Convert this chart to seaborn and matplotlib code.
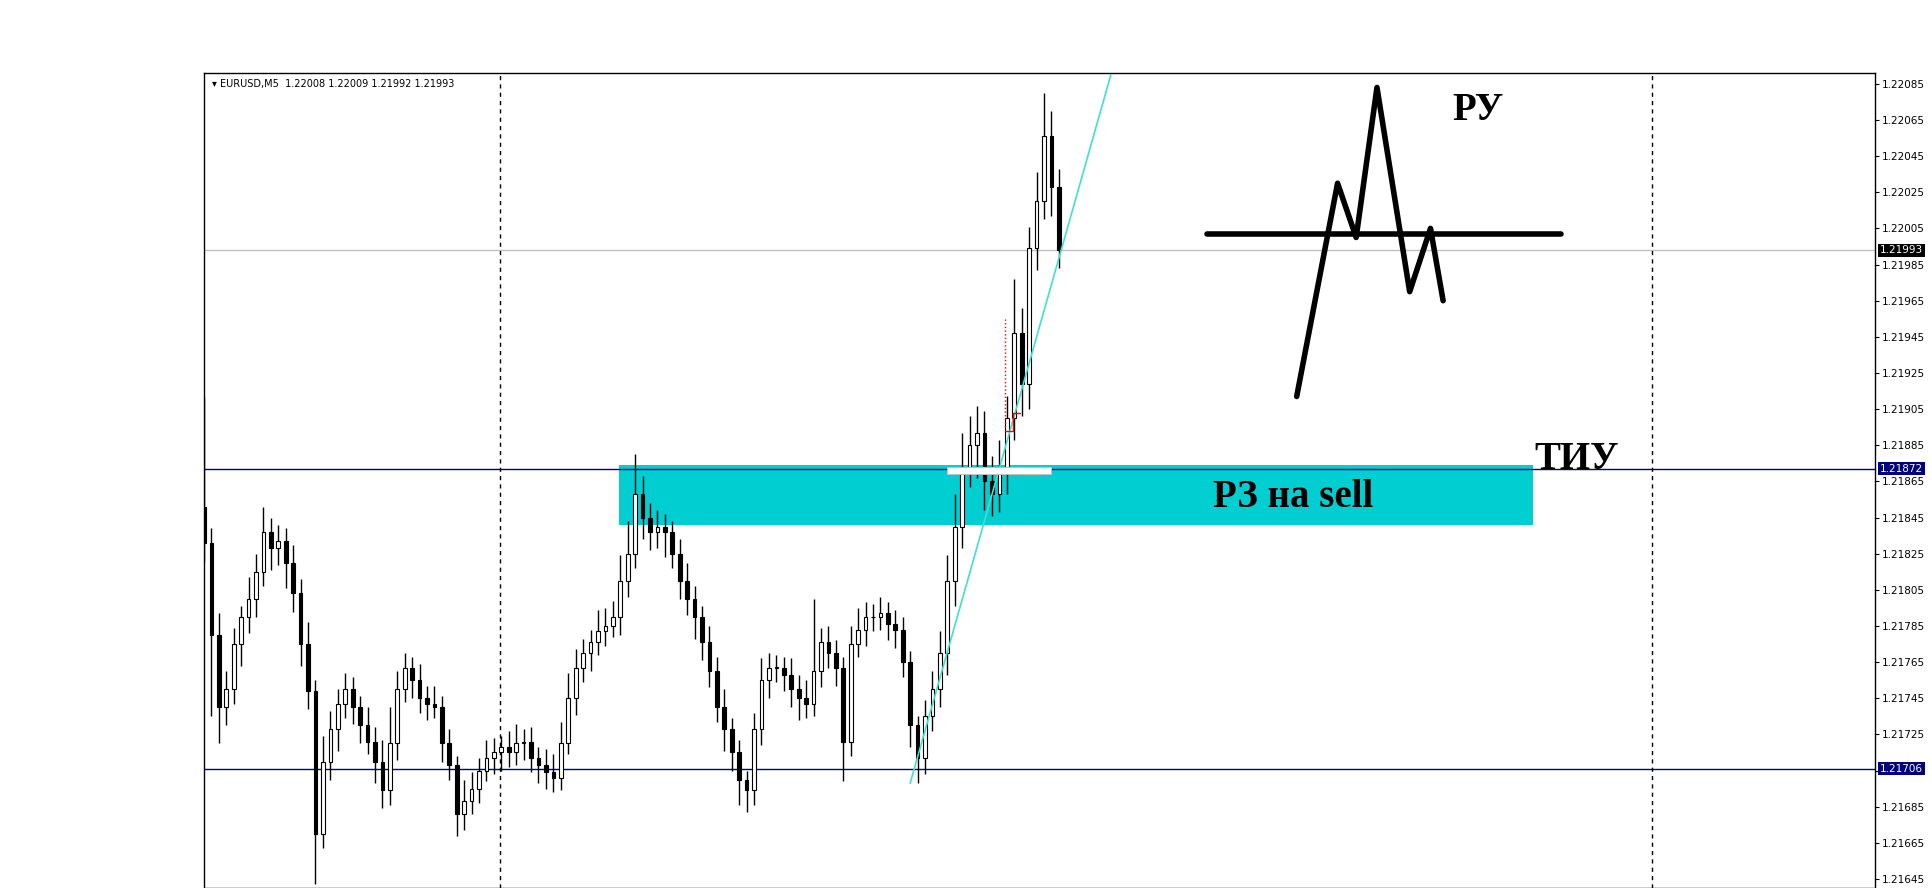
import numpy as np
import pandas as pd
import matplotlib
matplotlib.use("Agg")
import matplotlib.pyplot as plt
import seaborn as sns

# closes in 1e-5 above 1.21600, one per 5-minute bar
closes = [231, 180, 140, 150, 175, 190, 200, 215, 237, 228, 232, 220, 203, 175,
          149, 70, 110, 128, 142, 150, 140, 130, 121, 110, 94, 120, 150, 162,
          155, 145, 142, 140, 120, 108, 81, 88, 95, 105, 112, 115, 118, 115,
          120, 121, 112, 108, 104, 101, 120, 145, 162, 170, 176, 182, 185, 190,
          210, 225, 258, 245, 237, 240, 237, 225, 210, 200, 190, 176, 160, 140,
          128, 115, 100, 94, 128, 155, 162, 162, 158, 150, 145, 142, 160, 176,
          170, 162, 121, 175, 183, 190, 190, 192, 186, 183, 165, 130, 112, 135,
          150, 170, 210, 240, 272, 285, 292, 265, 258, 272, 300, 347, 319, 394,
          420, 456, 428, 393]
hi_ext = [60, 8, 12, 10, 9, 6, 12, 10, 14, 8, 9, 7, 10, 8, 12, 6, 14, 10, 8, 9,
          7, 6, 10, 8, 12, 20, 10, 8, 6, 9, 7, 10, 6, 8, 5, 12, 9, 7, 10, 8, 6,
          9, 11, 7, 8, 6, 9, 10, 12, 14, 10, 8, 7, 12, 10, 9, 14, 18, 22, 10, 8,
          9, 7, 6, 8, 10, 7, 6, 9, 8, 10, 6, 7, 5, 9, 12, 8, 7, 6, 9, 8, 10, 40,
          8, 9, 7, 6, 10, 12, 8, 7, 9, 6, 8, 7, 6, 5, 9, 10, 12, 14, 18, 20, 16,
          15, 12, 14, 16, 12, 30, 14, 12, 16, 24, 14, 10]
lo_ext = [10, 45, 20, 10, 8, 12, 9, 10, 8, 12, 9, 14, 10, 12, 10, 28, 8, 10, 12,
          8, 9, 10, 7, 12, 10, 8, 9, 7, 10, 8, 9, 6, 10, 8, 12, 9, 7, 8, 6, 9,
          10, 8, 7, 9, 8, 10, 9, 8, 7, 6, 9, 8, 10, 7, 8, 6, 10, 9, 8, 12, 10,
          9, 14, 8, 10, 9, 12, 10, 9, 8, 12, 10, 14, 12, 8, 9, 10, 8, 9, 10, 12,
          8, 7, 9, 8, 10, 22, 8, 7, 9, 8, 7, 9, 10, 8, 12, 14, 9, 8, 10, 12,
          14, 12, 10, 18, 16, 12, 10, 14, 12, 18, 14, 12, 10, 16, 10]

base = 1.216
price_ticks = [1.21645, 1.21665, 1.21685, 1.21705, 1.21725, 1.21745, 1.21765,
               1.21785, 1.21805, 1.21825, 1.21845, 1.21865, 1.21885, 1.21905,
               1.21925, 1.21945, 1.21965, 1.21985, 1.22005, 1.22025, 1.22045,
               1.22065, 1.22085]
level_hi = 1.21872
level_lo = 1.21706
last_price = 1.21993
zone = (55.8, 178.8, 1.21841, 1.21874)
trend_x = [95, 122]
trend_y = [1.21698, 1.22090]
sketch_x = [147.0, 152.5, 155.0, 157.8, 162.2, 165.0, 166.7]
sketch_y = [1.21912, 1.22030, 1.22000, 1.22083, 1.21970, 1.22005, 1.21965]
sketch_h_x = [135.0, 182.5]
sketch_h_y = [1.22002, 1.22002]

df = pd.DataFrame({"c": np.array(closes) * 1e-5 + base})
df["o"] = df["c"].shift(1).fillna(df["c"].iloc[0] + 0.0002)
df["h"] = df[["o", "c"]].max(axis=1) + np.array(hi_ext) * 1e-5
df["l"] = df[["o", "c"]].min(axis=1) - np.array(lo_ext) * 1e-5
df["i"] = np.arange(len(df))

sns.set_style("white")
plt.rcParams["text.color"] = "black"
plt.rcParams["ytick.color"] = "black"
fig = plt.figure(figsize=(19.32, 8.88), dpi=100)
ax = fig.add_axes([204 / 1932, 0, (1875 - 204) / 1932, (888 - 73) / 888])
ax.set_xlim(0, 224.8)
ax.set_ylim(1.21640, 1.22091)

# zone and levels
ax.add_patch(plt.Rectangle((zone[0], zone[2]), zone[1] - zone[0], zone[3] - zone[2],
                           color="#00CED1", zorder=1, lw=0))
ax.axhline(level_hi, color="#000080", lw=1, zorder=2)
ax.axhline(level_lo, color="#000080", lw=1, zorder=2)
ax.axhline(last_price, color="#c0c0c0", lw=1, zorder=2)
for xv in [39.8, 194.8]:
    ax.axvline(xv, color="black", ls=(0, (3, 3)), lw=1, zorder=2)

# candles
for _, r in df.iterrows():
    ax.vlines(r["i"], r["l"], r["h"], color="black", lw=1, zorder=3)
    bull = r["c"] >= r["o"]
    ax.add_patch(plt.Rectangle((r["i"] - 0.25, min(r["o"], r["c"])), 0.5,
                               max(abs(r["c"] - r["o"]), 1e-6),
                               facecolor="white" if bull else "black",
                               edgecolor="black", lw=0.8, zorder=4))

ax.plot(trend_x, trend_y, color="#40E0D0", lw=1.2, zorder=5)
ax.add_patch(plt.Rectangle((100, 1.21869), 14, 0.00004, facecolor="white",
                           edgecolor="#c0c0c0", lw=0.8, zorder=5))
ax.plot([107.8, 107.8], [1.21895, 1.21955], color="red", ls=":", lw=1, zorder=5)
ax.plot([107.8, 108.8, 108.8, 109.8], [1.21893, 1.21893, 1.21903, 1.21903],
        color="red", lw=1, zorder=5)

# hand sketch
sns.lineplot(x=sketch_x, y=sketch_y, ax=ax, color="black", lw=4, sort=False, zorder=6)
ax.plot(sketch_h_x, sketch_h_y, color="black", lw=4, solid_capstyle="round", zorder=6)

serif = ["Liberation Serif", "DejaVu Serif"]
ax.text(168, 1.22065, "РУ", family=serif, weight="bold", fontsize=28, color="black", zorder=7)
ax.text(179, 1.21872, "ТИУ", family=serif, weight="bold", fontsize=28, color="black", zorder=7)
ax.text(146.5, 1.21856, "РЗ на sell", family=serif, weight="bold", fontsize=28,
        color="black", ha="center", va="center", zorder=7)
ax.text(0.005, 0.993, "▾ EURUSD,M5  1.22008 1.22009 1.21992 1.21993",
        transform=ax.transAxes, fontsize=7, va="top", family="DejaVu Sans", color="black")

# right price axis
ax.yaxis.tick_right()
ax.set_yticks(price_ticks)
ax.set_yticklabels([f"{t:.5f}" for t in price_ticks], fontsize=7.5)
ax.tick_params(axis="y", length=3, direction="out", pad=2, colors="black")
ax.set_xticks([])
for val, bg in [(last_price, "black"), (level_hi, "#000080"), (level_lo, "#000080")]:
    ax.text(1.003, val, f"{val:.5f}", transform=ax.get_yaxis_transform(), fontsize=7.5,
            color="white", va="center",
            bbox=dict(boxstyle="square,pad=0.15", fc=bg, ec="none"))
for s in ax.spines.values():
    s.set_color("black")
    s.set_linewidth(1)

fig.savefig("out.png", dpi=100)
